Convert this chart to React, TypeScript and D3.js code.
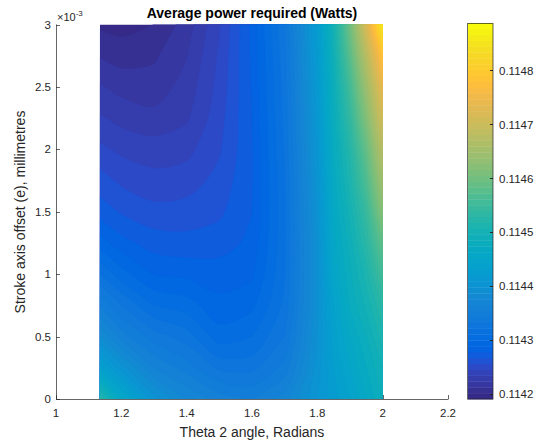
import React, { useEffect, useRef } from "react";
import * as d3 from "d3";

// grid the power was evaluated on
const thetas = [1.1345, 1.2, 1.3, 1.4, 1.5, 1.6, 1.7, 1.8, 1.85, 1.9, 1.95, 2.0];
const offsets = [0, 0.00025, 0.0005, 0.00075, 0.001, 0.00125, 0.0015, 0.00175, 0.002, 0.00225, 0.0025, 0.00275, 0.003];

// average power (W), one row per stroke axis offset, one value per theta
const p_e000 = [0.114523, 0.114458, 0.114403, 0.114376, 0.11436, 0.114354, 0.114371, 0.114409, 0.114425, 0.114441, 0.114463, 0.114485];
const p_e025 = [0.114436, 0.114403, 0.114365, 0.114349, 0.11433, 0.114329, 0.114347, 0.114403, 0.114431, 0.114452, 0.114474, 0.114496];
const p_e050 = [0.114387, 0.11436, 0.114338, 0.114327, 0.114305, 0.114311, 0.114333, 0.114398, 0.114436, 0.114463, 0.114485, 0.114512];
const p_e075 = [0.114354, 0.114333, 0.114311, 0.114305, 0.114292, 0.114297, 0.114325, 0.114396, 0.114441, 0.114476, 0.114499, 0.114529];
const p_e100 = [0.114322, 0.114305, 0.114288, 0.114286, 0.114284, 0.114287, 0.114321, 0.114396, 0.114452, 0.114483, 0.114512, 0.114556];
const p_e125 = [0.114294, 0.114282, 0.114273, 0.114271, 0.114273, 0.114281, 0.11432, 0.114397, 0.114458, 0.11449, 0.114529, 0.114583];
const p_e150 = [0.114273, 0.114266, 0.11426, 0.114261, 0.114265, 0.114278, 0.11432, 0.1144, 0.114463, 0.114501, 0.114545, 0.114621];
const p_e175 = [0.114261, 0.114254, 0.114249, 0.114251, 0.11426, 0.114277, 0.114321, 0.114403, 0.114469, 0.114512, 0.114567, 0.114648];
const p_e200 = [0.114248, 0.114243, 0.11424, 0.114242, 0.114255, 0.114277, 0.114323, 0.114408, 0.114474, 0.114523, 0.114588, 0.114676];
const p_e225 = [0.114236, 0.114231, 0.114227, 0.114233, 0.114252, 0.114278, 0.114325, 0.114412, 0.114481, 0.114539, 0.114616, 0.114708];
const p_e250 = [0.114225, 0.11422, 0.114218, 0.114228, 0.114249, 0.114279, 0.114327, 0.114416, 0.114487, 0.114556, 0.114643, 0.114741];
const p_e275 = [0.114212, 0.114208, 0.114211, 0.114223, 0.114247, 0.11428, 0.114329, 0.114421, 0.114494, 0.114578, 0.114676, 0.114785];
const p_e300 = [0.1142, 0.114198, 0.114202, 0.114218, 0.114244, 0.114281, 0.114333, 0.114425, 0.114501, 0.114599, 0.114719, 0.114861];

const powerRows = [p_e000, p_e025, p_e050, p_e075, p_e100, p_e125, p_e150, p_e175, p_e200, p_e225, p_e250, p_e275, p_e300];

const xTicks = [1, 1.2, 1.4, 1.6, 1.8, 2, 2.2];
const yTicks = [0, 0.0005, 0.001, 0.0015, 0.002, 0.0025, 0.003];
const cTicks = [0.1142, 0.1143, 0.1144, 0.1145, 0.1146, 0.1147, 0.1148];
const cLimits = [0.114191, 0.114888];

// parula, 64 entries
const parula = [
  [0.2081, 0.1663, 0.5292], [0.2116, 0.1898, 0.5777], [0.2123, 0.2138, 0.627], [0.2081, 0.2386, 0.6771],
  [0.1959, 0.2645, 0.7279], [0.1707, 0.2919, 0.7792], [0.1253, 0.3242, 0.8303], [0.0591, 0.3598, 0.8683],
  [0.0117, 0.3875, 0.882], [0.006, 0.4086, 0.8828], [0.0165, 0.4266, 0.8786], [0.0329, 0.443, 0.872],
  [0.0498, 0.4586, 0.8641], [0.0629, 0.4737, 0.8554], [0.0723, 0.4887, 0.8467], [0.0779, 0.504, 0.8384],
  [0.0793, 0.52, 0.8312], [0.0749, 0.5375, 0.8263], [0.0641, 0.557, 0.824], [0.0488, 0.5772, 0.8228],
  [0.0343, 0.5966, 0.8199], [0.0265, 0.6137, 0.8135], [0.0239, 0.6287, 0.8038], [0.0231, 0.6418, 0.7913],
  [0.0228, 0.6535, 0.7768], [0.0267, 0.6642, 0.7607], [0.0384, 0.6743, 0.7436], [0.059, 0.6838, 0.7254],
  [0.0843, 0.6928, 0.7062], [0.1133, 0.7015, 0.6859], [0.1453, 0.7098, 0.6646], [0.1801, 0.7177, 0.6424],
  [0.2178, 0.725, 0.6193], [0.2586, 0.7317, 0.5954], [0.3022, 0.7376, 0.5712], [0.3482, 0.7424, 0.5473],
  [0.3953, 0.7459, 0.5244], [0.442, 0.7481, 0.5033], [0.4871, 0.7491, 0.484], [0.53, 0.7491, 0.4661],
  [0.5709, 0.7485, 0.4494], [0.6099, 0.7473, 0.4337], [0.6473, 0.7456, 0.4188], [0.6834, 0.7435, 0.4044],
  [0.7184, 0.7411, 0.3905], [0.7525, 0.7384, 0.3768], [0.7858, 0.7356, 0.3633], [0.8185, 0.7327, 0.3498],
  [0.8507, 0.7299, 0.336], [0.8824, 0.7274, 0.3217], [0.9139, 0.7258, 0.3063], [0.945, 0.7261, 0.2886],
  [0.9739, 0.7314, 0.2666], [0.9938, 0.7455, 0.2403], [0.999, 0.7653, 0.2164], [0.9955, 0.7861, 0.1967],
  [0.988, 0.8066, 0.1794], [0.9789, 0.8271, 0.1633], [0.9697, 0.8481, 0.1475], [0.9626, 0.8705, 0.1309],
  [0.9589, 0.8949, 0.1132], [0.9598, 0.9218, 0.0948], [0.9661, 0.9514, 0.0755], [0.9763, 0.9831, 0.0538],
];

const FONT = "'Liberation Sans', Arial, Helvetica, sans-serif";
const AXIS = "#262626";
const TICK_SIZE = 11.5;

export default function App() {
  const ref = useRef<SVGSVGElement | null>(null);

  useEffect(() => {
    const svg = d3.select(ref.current);
    svg.selectAll("*").remove();

    const colors = parula.map(([r, g, b]) => d3.rgb(r * 255, g * 255, b * 255).formatHex());
    const [cmin, cmax] = cLimits;
    const step = (cmax - cmin) / colors.length;

    const x = d3.scaleLinear().domain([1, 2.2]).range([56, 448]);
    const y = d3.scaleLinear().domain([0, 0.003]).range([399, 24.5]);

    // axes lines and ticks (drawn under the data, like MATLAB)
    const ax = svg.append("g").attr("font-family", FONT).attr("fill", AXIS);
    ax.append("line").attr("x1", 56.5).attr("x2", 56.5).attr("y1", y(0.003)).attr("y2", 399.5)
      .attr("stroke", AXIS).attr("stroke-opacity", 0.7);
    ax.append("line").attr("x1", 56).attr("x2", 448.5).attr("y1", 399.5).attr("y2", 399.5)
      .attr("stroke", AXIS).attr("stroke-opacity", 0.7);

    ax.selectAll(".xt").data(xTicks).join("line")
      .attr("x1", (d) => Math.round(x(d)) + 0.5).attr("x2", (d) => Math.round(x(d)) + 0.5)
      .attr("y1", 399).attr("y2", 395).attr("stroke", AXIS).attr("stroke-opacity", 0.7);
    ax.selectAll(".xl").data(xTicks).join("text")
      .attr("x", (d) => x(d)).attr("y", 417).attr("text-anchor", "middle").attr("font-size", TICK_SIZE)
      .text((d) => d3.format("~g")(d));

    ax.selectAll(".yt").data(yTicks).join("line")
      .attr("y1", (d) => Math.round(y(d)) + 0.5).attr("y2", (d) => Math.round(y(d)) + 0.5)
      .attr("x1", 56).attr("x2", 60).attr("stroke", AXIS).attr("stroke-opacity", 0.7);
    ax.selectAll(".yl").data(yTicks).join("text")
      .attr("x", 51).attr("y", (d) => y(d)).attr("dy", "0.36em").attr("text-anchor", "end").attr("font-size", TICK_SIZE)
      .text((d) => d3.format("~g")(+(d * 1000).toFixed(4)));

    const exp = ax.append("text").attr("x", 57).attr("y", 21).attr("font-size", 11);
    exp.append("tspan").text("\u00d710");
    exp.append("tspan").attr("font-size", 8).attr("dy", -5).text("-3");

    // filled contours; the half-cell border of the contour grid falls outside the clip
    const nx = thetas.length;
    const ny = offsets.length;
    const values = powerRows.flat();
    const thresholds = d3.range(1, colors.length).map((k) => cmin + k * step);
    const bands = d3.contours().size([nx, ny]).thresholds(thresholds)(values);
    const gx = d3.scaleLinear().domain(d3.range(nx)).range(thetas);
    const gy = d3.scaleLinear().domain(d3.range(ny)).range(offsets);
    const openLine = d3.line().curve(d3.curveCatmullRom.alpha(0.5));
    const closedLine = d3.line().curve(d3.curveCatmullRomClosed.alpha(0.5));
    const isBorder = ([cx, cy]: number[]) => cx <= 0 || cx >= nx || cy <= 0 || cy >= ny;
    const fmt = (p: [number, number]) => `${p[0].toFixed(2)},${p[1].toFixed(2)}`;

    // interior runs of a ring are smoothed, runs along the grid border stay straight
    const ringPath = (ring: number[][]) => {
      const items: { p: [number, number]; border: boolean }[] = [];
      ring.slice(0, -1).forEach((c) => {
        const p: [number, number] = [x(gx(c[0] - 0.5)), y(gy(c[1] - 0.5))];
        const last = items[items.length - 1];
        if (last && Math.abs(last.p[0] - p[0]) < 0.01 && Math.abs(last.p[1] - p[1]) < 0.01) return;
        items.push({ p, border: isBorder(c) });
      });
      if (items.length < 3) return "";
      const start = items.findIndex((d) => d.border);
      if (start < 0) return closedLine(items.map((d) => d.p)) || "";
      const rot = items.slice(start).concat(items.slice(0, start));
      let s = `M${fmt(rot[0].p)}`;
      let run: [number, number][] = [];
      const flush = () => {
        if (run.length === 1) s += `L${fmt(run[0])}`;
        else if (run.length > 1) s += (openLine(run) || "").replace(/^M/, "L");
        run = [];
      };
      for (let i = 1; i < rot.length; i++) {
        if (rot[i].border) {
          flush();
          s += `L${fmt(rot[i].p)}`;
        } else run.push(rot[i].p);
      }
      flush();
      return s + "Z";
    };
    const toPath = (mp: any) =>
      mp.coordinates.map((poly: number[][][]) => poly.map(ringPath).join("")).join("");

    const x0 = x(thetas[0]);
    const x1 = x(thetas[nx - 1]);
    const y0 = y(0.003);
    const y1 = y(0);
    svg.append("clipPath").attr("id", "plot-clip")
      .append("rect").attr("x", x0).attr("y", y0).attr("width", x1 - x0).attr("height", y1 - y0);

    const plot = svg.append("g").attr("clip-path", "url(#plot-clip)");
    plot.append("rect")
      .attr("x", x0).attr("y", y0).attr("width", x1 - x0).attr("height", y1 - y0)
      .attr("fill", colors[0]);
    plot.selectAll("path").data(bands).join("path")
      .attr("d", toPath)
      .attr("fill-rule", "evenodd")
      .attr("fill", (d) => colors[Math.min(colors.length - 1, Math.round((d.value - cmin) / step))])
      .attr("stroke", (d) => colors[Math.min(colors.length - 1, Math.round((d.value - cmin) / step))])
      .attr("stroke-width", 0.3);

    // titles
    svg.append("text").attr("x", 252).attr("y", 17.5).attr("text-anchor", "middle")
      .attr("font-family", FONT).attr("font-size", 14).attr("font-weight", "bold").attr("fill", "#000")
      .text("Average power required (Watts)");
    svg.append("text").attr("x", 252).attr("y", 437).attr("text-anchor", "middle")
      .attr("font-family", FONT).attr("font-size", 14).attr("fill", AXIS)
      .text("Theta 2 angle, Radians");
    svg.append("text").attr("transform", "translate(25,212) rotate(-90)").attr("text-anchor", "middle")
      .attr("font-family", FONT).attr("font-size", 14).attr("fill", AXIS)
      .text("Stroke axis offset (e), millimetres");

    // colorbar
    const cb = d3.scaleLinear().domain([cmin, cmax]).range([399, 23]);
    const bar = svg.append("g");
    bar.selectAll("rect").data(colors).join("rect")
      .attr("x", 468).attr("width", 25)
      .attr("y", (_, k) => cb(cmin + (k + 1) * step))
      .attr("height", (_, k) => cb(cmin + k * step) - cb(cmin + (k + 1) * step) + 0.4)
      .attr("fill", (d) => d);
    bar.append("rect").attr("x", 467.5).attr("y", 23.5).attr("width", 25.5).attr("height", 375.5)
      .attr("fill", "none").attr("stroke", AXIS).attr("stroke-opacity", 0.7);
    bar.selectAll("line").data(cTicks).join("line")
      .attr("x1", 490).attr("x2", 493)
      .attr("y1", (d) => Math.round(cb(d)) + 0.5).attr("y2", (d) => Math.round(cb(d)) + 0.5)
      .attr("stroke", AXIS);
    bar.selectAll("text").data(cTicks).join("text")
      .attr("x", 499).attr("y", (d) => cb(d)).attr("dy", "0.36em")
      .attr("font-family", FONT).attr("font-size", TICK_SIZE).attr("fill", AXIS)
      .text((d) => d3.format(".4f")(d));
  }, []);

  return (
    <div style={{ position: "absolute", left: 0, top: 0 }}>
      <svg ref={ref} width={540} height={446} style={{ display: "block", background: "#fff" }} />
    </div>
  );
}
